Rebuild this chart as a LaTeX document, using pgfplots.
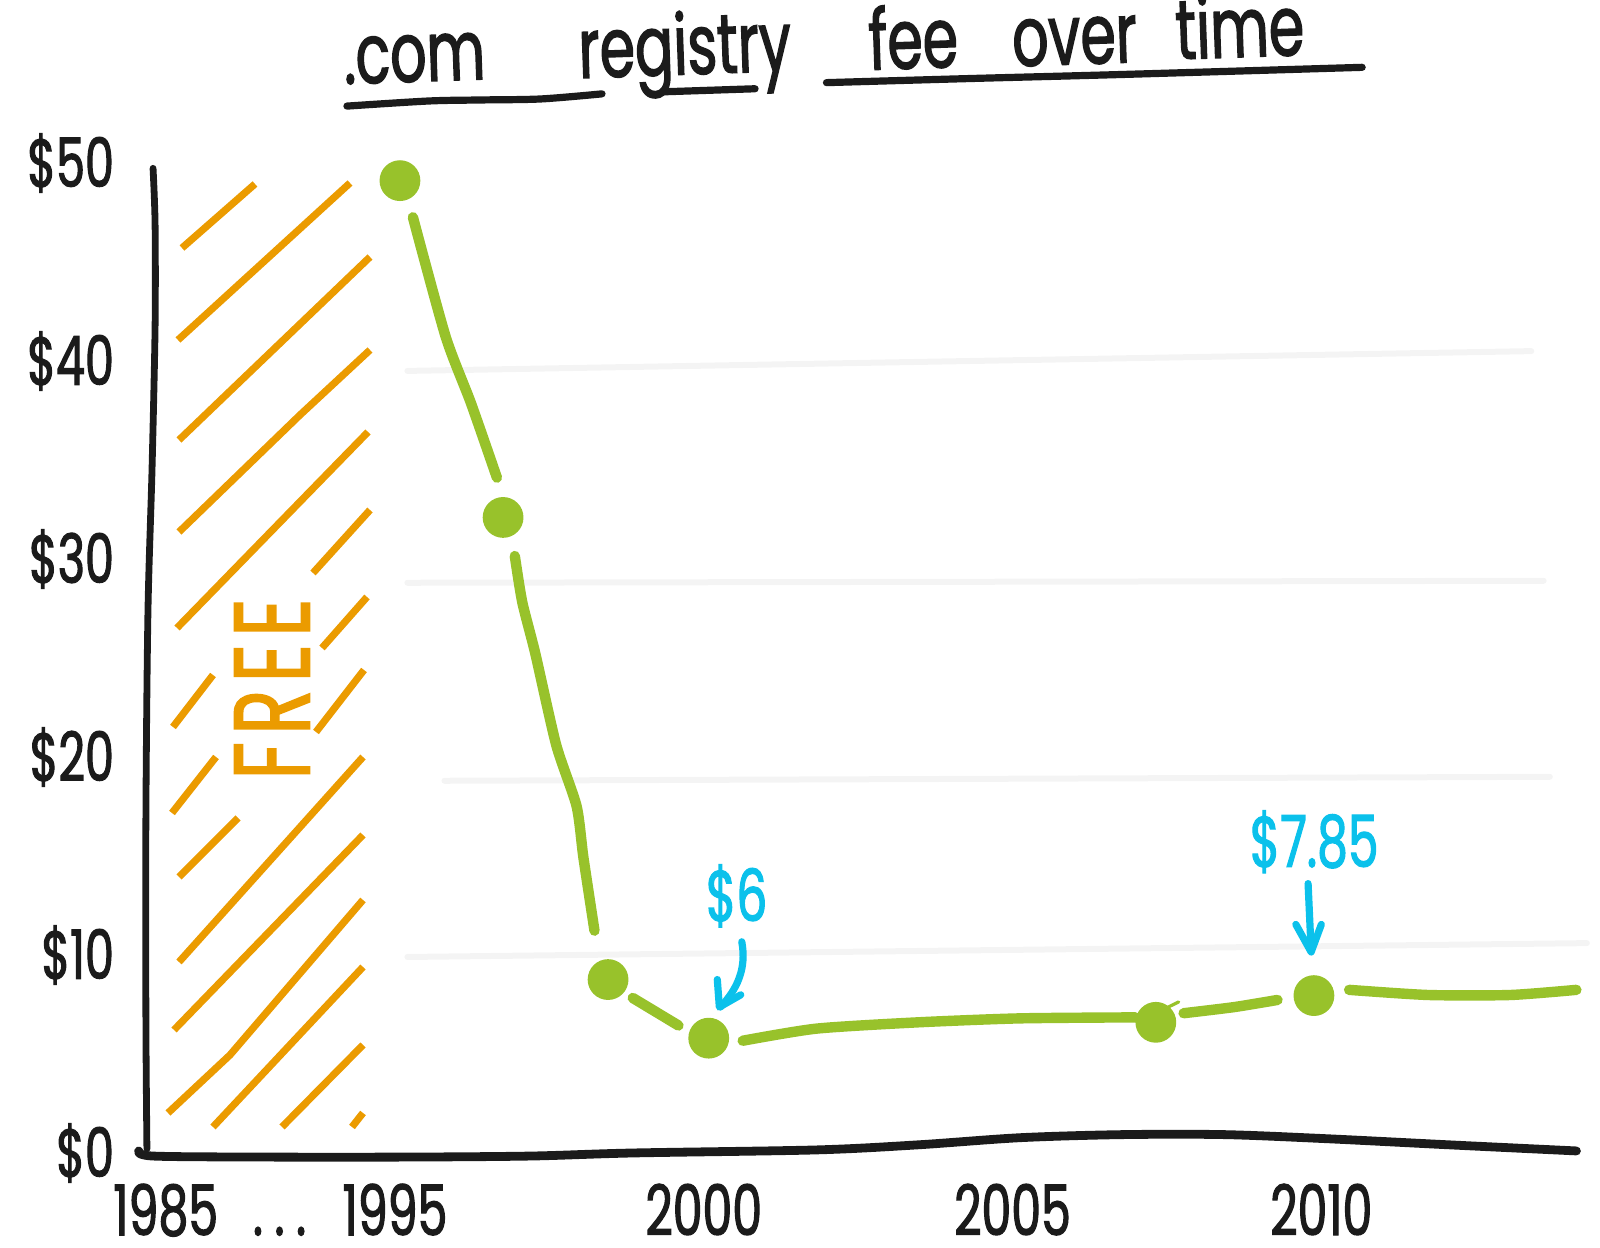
\documentclass[border=0pt]{standalone}
\usepackage{pgfplots}
\pgfplotsset{compat=1.18}
\usepackage{fontspec}
\setmainfont{Poppins}[FakeStretch=0.68, FakeBold=1.6]
\usetikzlibrary{arrows.meta}
\definecolor{grn}{HTML}{98C22B}
\definecolor{org}{HTML}{EB9B00}
\definecolor{cyn}{HTML}{0BC1EB}
\definecolor{blk}{HTML}{1B1B1B}
\definecolor{gridc}{HTML}{F4F4F4}
\begin{document}
\begin{tikzpicture}
\begin{axis}[
  at={(0,0)}, anchor=south west, scale only axis,
  width=357.25bp, height=247.5bp,
  xmin=1991, xmax=2014.14, ymin=0, ymax=50,
  axis line style={draw=none}, tick style={draw=none},
  clip=false,
  xtick={1992.0,1995,2000,2005,2010},
  xticklabels={{1985\enspace.\,.\,.},1995,2000,2005,2010},
  ytick={0,10,20,30,40,50},
  yticklabels={\$0,\$10,\$20,\$30,\$40,\$50},
  xticklabel style={font=\fontsize{17.5}{19}\selectfont, text=blk, inner sep=0pt, yshift=-7.5bp},
  yticklabel style={font=\fontsize{17}{19}\selectfont, text=blk, xshift=-5bp},
]
% faint guide lines
\draw[gridc, line width=1.5bp, line cap=round] (axis cs:1995.2,39.5) -- (axis cs:2013.4,40.5);
\draw[gridc, line width=1.5bp, line cap=round] (axis cs:1995.2,28.8) -- (axis cs:2013.6,28.9);
\draw[gridc, line width=1.5bp, line cap=round] (axis cs:1995.8,18.8) -- (axis cs:2013.7,19.0);
\draw[gridc, line width=1.5bp, line cap=round] (axis cs:1995.2,9.9) -- (axis cs:2014.3,10.6);
% green fee line
\addplot[grn, line width=2.6bp, line cap=round, line join=round, smooth, tension=0.4] coordinates {(1995.29,47.26) (1995.82,41.23) (1996.23,37.87) (1996.65,34.11)};
\addplot[grn, line width=2.6bp, line cap=round, line join=round, smooth, tension=0.4] coordinates {(1996.94,30.15) (1997.06,27.83) (1997.27,25.25) (1997.61,20.61) (1997.94,17.52) (1998.05,14.94) (1998.23,11.23)};
\addplot[grn, line width=2.6bp, line cap=round] coordinates {(1998.85,7.83) (1999.59,6.44)};
\addplot[grn, line width=2.6bp, line cap=round, line join=round, smooth, tension=0.4] coordinates {(2000.63,5.67) (2001.82,6.28) (2003.47,6.60) (2005.12,6.80) (2006.99,6.85)};
\addplot[grn, line width=0.8bp, line cap=round] coordinates {(2007.52,7.37) (2007.69,7.63)};
\addplot[grn, line width=2.6bp, line cap=round, line join=round, smooth, tension=0.4] coordinates {(2007.77,7.06) (2008.59,7.37) (2009.29,7.73)};
\addplot[grn, line width=2.6bp, line cap=round, line join=round, smooth, tension=0.4] coordinates {(2010.45,8.24) (2011.73,7.98) (2013.06,7.98) (2014.13,8.24)};
\addplot[only marks, mark=*, mark size=4.9bp, grn, mark options={draw=grn, fill=grn}] coordinates {(1995.08,49.11) (1996.75,32.10) (1998.45,8.76) (2000.08,5.80) (2007.32,6.60) (2009.88,7.95)};
\end{axis}
% ---- hand-drawn decorations, full-size pixel coordinates ----
\begin{scope}[shift={(-37bp,288.25bp)}, x=0.25bp, y=-0.25bp]
 \begin{scope}[org, line width=1.8bp]
  \draw (182,248) -- (255,184);
  \draw (178,340) -- (350,183);
  \draw (179,440) -- (370,257);
  \draw (179,532) -- (300,415) -- (370,350);
  \draw (177,628) -- (368,432);
  \draw (173,727) -- (213,675);
  \draw (313,573) -- (370,510);
  \draw (172,813) -- (216,757);
  \draw (322,648) -- (367,597);
  \draw (179,877) -- (238,818);
  \draw (316,732) -- (364,670);
  \draw (179,962) -- (363,757);
  \draw (174,1030) -- (363,835);
  \draw (168,1113) -- (230,1055) -- (363,900);
  \draw (213,1127) -- (363,967);
  \draw (282,1127) -- (363,1045);
  \draw (352,1127) -- (363,1113);
 \end{scope}
 \node[org, rotate=90, font=\fontsize{27}{29}\selectfont] at (272,689) {F\kern2bp R\kern2bp E\kern2bp E};
\end{scope}
% ---- shown-size pixel coordinates ----
\begin{scope}[shift={(-37bp,288.25bp)}, x=0.2551bp, y=-0.2551bp]
 % axes
 \draw[blk, line width=1.7bp, line cap=round, line join=round] plot[smooth, tension=0.5] coordinates {(150,165) (152,220) (152,320) (149,460) (145,600) (143,800) (143,1000) (144,1126)};
 \draw[blk, line width=2.2bp, line cap=round, line join=round] plot[smooth, tension=0.5] coordinates {(136,1128) (150,1133) (260,1134) (400,1134) (520,1133) (620,1130) (800,1127) (900,1122) (1000,1115) (1100,1112) (1200,1112) (1300,1116) (1420,1122) (1545,1128)};
 % title
 \begin{scope}[blk]
  \node[anchor=base, rotate=2, font=\fontsize{21}{23}\selectfont] at (407,80) {.com};
  \node[anchor=base, rotate=2, font=\fontsize{21}{23}\selectfont] at (672,73) {registry};
  \node[anchor=base, rotate=2, font=\fontsize{21}{23}\selectfont] at (896,67) {fee};
  \node[anchor=base, rotate=2, font=\fontsize{21}{23}\selectfont] at (1054,63) {over};
  \node[anchor=base, rotate=2, font=\fontsize{21}{23}\selectfont] at (1216,56) {time};
  \draw[line width=1.8bp, line cap=round] plot[smooth, tension=0.5] coordinates {(340,104) (420,99) (470,98) (530,97) (590,92)};
  \draw[line width=1.8bp, line cap=round] (650,90) -- (740,87);
  \draw[line width=1.8bp, line cap=round] plot[smooth, tension=0.5] coordinates {(810,81) (950,77) (1100,73) (1335,66)};
 \end{scope}
 % annotations
 \node[cyn, font=\fontsize{18}{20}\selectfont] at (722,878) {\$6};
 \draw[cyn, line width=1.8bp, line cap=round] (727,923) .. controls (732,950) and (722,970) .. (706,987);
 \draw[cyn, line width=1.8bp, line cap=round, line join=round] (703,960) -- (705,987) -- (726,975);
 \node[cyn, font=\fontsize{18}{20}\selectfont] at (1288,825) {\$7.85};
 \draw[cyn, line width=1.8bp, line cap=round] (1282,866) -- (1285,932);
 \draw[cyn, line width=1.8bp, line cap=round, line join=round] (1270,906) -- (1285,933) -- (1295,906);
\end{scope}
\pgfresetboundingbox
\path[use as bounding box] (-37bp,-23.75bp) rectangle (363bp,288.25bp);
\end{tikzpicture}
\end{document}
